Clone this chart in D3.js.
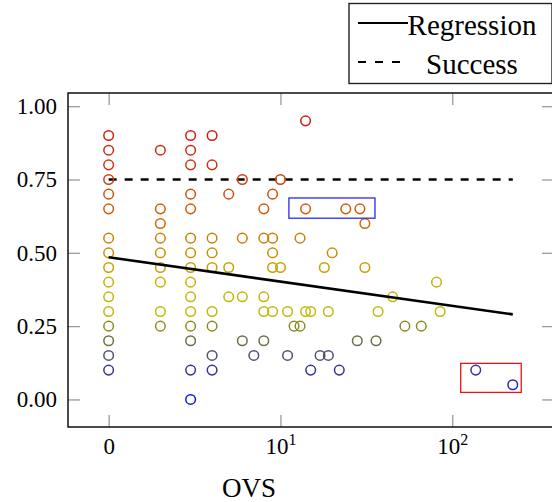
<!DOCTYPE html>
<meta charset="utf-8">
<style>
body{margin:0;background:#fff;}
text{font-family:"Liberation Serif","Times New Roman",serif;fill:#000;}
.tick line{stroke:#9a9a9a;stroke-width:1.3px;}
.marks circle{fill:none;stroke-width:1.5px;}
</style>
<body>
<script src="https://d3js.org/d3.v7.min.js"></script>
<script>

// OVS position on the log axis (1 is shown as "0") and the success values of each column
var ovsValues=[1,2,3,4,5,6,7,8,9,10,11,12,13,14,15,17,18,19,20,22,24,28,29,31,36,37,45,53,66,81,85,137,225];
var rateValues=[
 [0.9,0.85,0.8,0.75,0.7,0.65,0.55,0.5,0.45,0.4,0.35,0.3,0.25,0.2,0.15,0.1],
 [0.85,0.65,0.6,0.55,0.5,0.45,0.4,0.3,0.25],
 [0.9,0.85,0.8,0.7,0.65,0.55,0.5,0.45,0.4,0.35,0.3,0.25,0.2,0.1,0.0],
 [0.9,0.8,0.55,0.5,0.45,0.3,0.25,0.15,0.1],
 [0.7,0.45,0.35],
 [0.75,0.55,0.35,0.2],
 [0.15],
 [0.65,0.55,0.35,0.3,0.2],
 [0.7,0.55,0.5,0.45,0.3],
 [0.75,0.45],
 [0.3,0.15],
 [0.25],
 [0.55,0.25],
 [0.95,0.65,0.3],
 [0.3,0.1],
 [0.15],
 [0.45],
 [0.3,0.15],
 [0.5],
 [0.1],
 [0.65],
 [0.2],
 [0.65],
 [0.6,0.45],
 [0.2],
 [0.3],
 [0.35],
 [0.25],
 [0.25],
 [0.4],
 [0.3],
 [0.1],
 [0.05]
];

var regression=[[1,0.485],[225,0.29]];
var success=[[1,0.75],[225,0.75]];
var legendLabels=["Regression","Success"];

// highlighted groups: [x0,x1,y0,y1]
var boxBlue=[11.2,35.5,0.618,0.687];
var boxRed=[112,252,0.024,0.123];

var xTicks=[1,10,100];
var xTickLabels=["0","10^1","10^2"];
var yTicks=[0,0.25,0.5,0.75,1];

var colorStops=[0,0.1,0.25,0.3,0.4,0.5,0.65,0.8,0.95];
var colorList=["#1515f0","#333399","#8c8c1e","#c0bc08","#c8b000","#c89000","#cc5c08","#cc3410","#d81414"];

var serif='"Liberation Serif","Times New Roman",serif';

var points=[];
ovsValues.forEach(function(x,i){
	rateValues[i].forEach(function(y){ points.push({x:x,y:y}); });
});

var svg=d3.select("body").append("svg").attr("width",552).attr("height",502)
	.attr("font-family",serif);

var x=d3.scaleLog().domain([0.58,391]).range([68,554]);
var y=d3.scaleLinear().domain([-0.094,1.045]).range([427,93]);
var color=d3.scaleLinear().domain(colorStops).range(colorList);

// axes with inward ticks
var gx=svg.append("g").attr("transform","translate(0,427)")
	.call(d3.axisBottom(x).tickValues(xTicks).tickSizeInner(-12).tickSizeOuter(0).tickPadding(11).tickFormat(""))
	.attr("font-family",serif);
gx.selectAll(".tick text").each(function(d,i){
	var parts=xTickLabels[i].split("^");
	var t=d3.select(this).attr("font-size",23).attr("dy","0.71em");
	t.append("tspan").text(parts[0]);
	if(parts[1]) t.append("tspan").attr("font-size",16).attr("dy","-0.6em").text(parts[1]);
});
svg.append("g").attr("transform","translate(0,93)")
	.call(d3.axisTop(x).tickValues(xTicks).tickSizeInner(-12).tickSizeOuter(0).tickFormat(""));

svg.append("g").attr("transform","translate(68,0)")
	.call(d3.axisLeft(y).tickValues(yTicks).tickSizeInner(-12).tickSizeOuter(0).tickPadding(11).tickFormat(d3.format(".2f")))
	.attr("font-family",serif)
	.selectAll(".tick text").attr("font-size",23);
svg.append("g").attr("transform","translate(554,0)")
	.call(d3.axisRight(y).tickValues(yTicks).tickSizeInner(-12).tickSizeOuter(0).tickFormat(""));

svg.selectAll(".domain").remove();
svg.selectAll(".tick text").attr("fill","#000").attr("font-family",serif);

svg.append("rect").attr("x",68).attr("y",93).attr("width",486).attr("height",334)
	.attr("fill","none").attr("stroke","#000").attr("stroke-width",1.4);

svg.append("text").attr("x",249).attr("y",497).attr("text-anchor","middle").attr("font-size",27).text("OVS");

// lines
var line=d3.line().x(d=>x(d[0])).y(d=>y(d[1]));
svg.append("path").datum(success).attr("d",line).attr("fill","none")
	.attr("stroke","#000").attr("stroke-width",2.4).attr("stroke-dasharray","8,8");

// scatter
svg.append("g").attr("class","marks").selectAll("circle").data(points).enter().append("circle")
	.attr("cx",d=>x(d.x)).attr("cy",d=>y(d.y)).attr("r",4.8)
	.attr("stroke",d=>color(d.y));

svg.append("path").datum(regression).attr("d",line).attr("fill","none")
	.attr("stroke","#000").attr("stroke-width",2.7);

// highlight boxes
[[boxBlue,"#2a2af0"],[boxRed,"#f01010"]].forEach(function(b){
	var r=b[0];
	svg.append("rect").attr("x",x(r[0])).attr("y",y(r[3]))
		.attr("width",x(r[1])-x(r[0])).attr("height",y(r[2])-y(r[3]))
		.attr("fill","none").attr("stroke",b[1]).attr("stroke-width",1.3);
});

// legend
var lg=svg.append("g");
lg.append("rect").attr("x",349).attr("y",3.5).attr("width",203).attr("height",80)
	.attr("fill","#fff").attr("stroke","#222").attr("stroke-width",1.4);
legendLabels.forEach(function(name,i){
	var ly=23+i*39;
	lg.append("line").attr("x1",358).attr("x2",i?400:408).attr("y1",ly).attr("y2",ly)
		.attr("stroke","#000").attr("stroke-width",2)
		.attr("stroke-dasharray",i?"8,9":null);
	lg.append("text").attr("x",472).attr("y",ly+12).attr("text-anchor","middle")
		.attr("font-size",29).text(name);
});

</script>
</body>
</html>
